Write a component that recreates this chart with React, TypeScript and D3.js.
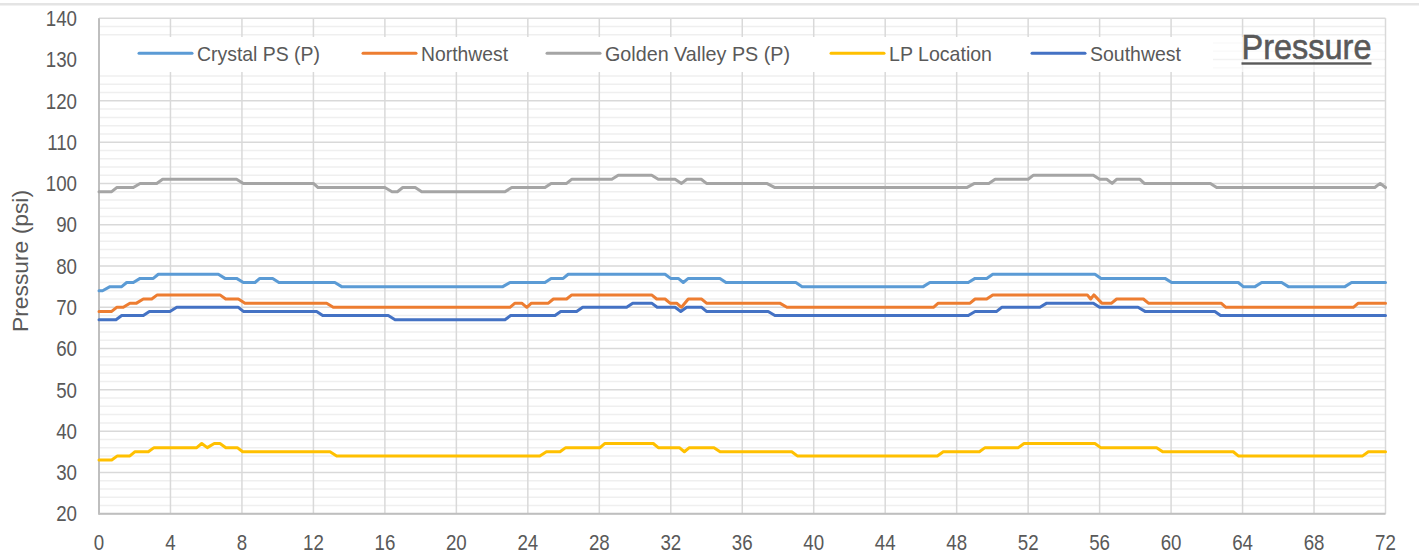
import React from "react";
import * as d3 from "d3";

type Pt = [number, number];

const seriesNames = ["Crystal PS (P)", "Northwest", "Golden Valley PS (P)", "LP Location", "Southwest"];
const seriesColors = ["#5B9BD5", "#ED7D31", "#A5A5A5", "#FFC000", "#4472C4"];

const xTicks = [0, 4, 8, 12, 16, 20, 24, 28, 32, 36, 40, 44, 48, 52, 56, 60, 64, 68, 72];
const yTicks = [20, 30, 40, 50, 60, 70, 80, 90, 100, 110, 120, 130, 140];

const crystalPS: Pt[] = [
  [0, 74], [0.2, 74], [0.615, 75], [1.27, 75], [1.55, 76], [1.92, 76], [2.3, 77], [3.04, 77], [3.32, 78], [6.68, 78],
  [7.05, 77], [7.7, 77], [8.08, 76], [8.73, 76], [9.0, 77], [9.72, 77], [10.07, 76], [13.2, 76], [13.58, 75], [22.6, 75],
  [23.0, 76], [24.96, 76], [25.3, 77], [25.98, 77], [26.26, 78], [31.68, 78], [31.99, 77], [32.42, 77], [32.7, 76], [32.98, 77],
  [34.75, 77], [35.09, 76], [39.0, 76], [39.35, 75], [46.13, 75], [46.5, 76], [48.65, 76], [49.03, 77], [49.68, 77], [50.02, 78],
  [55.74, 78], [56.08, 77], [59.66, 77], [60.03, 76], [63.76, 76], [64.04, 75], [64.7, 75], [65.07, 76], [66.19, 76], [66.56, 75],
  [69.73, 75], [70.1, 76], [72, 76],
];

const northwest: Pt[] = [
  [0, 69], [0.71, 69], [0.99, 70], [1.36, 70], [1.73, 71], [2.1, 71], [2.48, 72], [2.95, 72], [3.26, 73], [6.77, 73],
  [7.09, 72], [7.8, 72], [8.17, 71], [12.74, 71], [13.11, 70], [23.0, 70], [23.28, 71], [23.66, 71], [23.94, 70], [24.2, 71],
  [25.15, 71], [25.43, 72], [26.17, 72], [26.46, 73], [30.93, 73], [31.21, 72], [31.68, 72], [31.96, 71], [32.33, 71], [32.6, 70],
  [32.98, 72], [33.73, 72], [34.0, 71], [38.1, 71], [38.5, 70], [46.7, 70], [46.97, 71], [48.75, 71], [49.03, 72], [49.68, 72],
  [50.02, 73], [55.31, 73], [55.5, 72], [55.68, 73], [56.12, 71], [56.67, 71], [56.95, 72], [58.45, 72], [58.73, 71], [62.8, 71],
  [63.07, 70], [70.2, 70], [70.48, 71], [72, 71],
];

const goldenValleyPS: Pt[] = [
  [0, 98], [0.71, 98], [0.99, 99], [1.92, 99], [2.3, 100], [3.23, 100], [3.56, 101], [7.7, 101], [8.08, 100], [12.0, 100],
  [12.26, 99], [16.0, 99], [16.4, 98], [16.7, 98], [17.0, 99], [17.7, 99], [18.06, 98], [22.72, 98], [23.1, 99], [24.96, 99],
  [25.3, 100], [26.17, 100], [26.45, 101], [28.7, 101], [29.06, 102], [30.93, 102], [31.3, 101], [32.24, 101], [32.6, 100], [32.9, 101],
  [33.7, 101], [34.0, 100], [37.37, 100], [37.83, 99], [48.56, 99], [49.0, 100], [49.8, 100], [50.15, 101], [52.0, 101], [52.3, 102],
  [55.65, 102], [56.0, 101], [56.4, 101], [56.7, 100], [56.95, 101], [58.26, 101], [58.5, 100], [62.2, 100], [62.55, 99], [71.4, 99],
  [71.7, 100], [72, 99],
];

const lpLocation: Pt[] = [
  [0, 33], [0.71, 33], [1.03, 34], [1.73, 34], [2.0, 35], [2.76, 35], [3.08, 36], [5.47, 36], [5.75, 37], [6.06, 36],
  [6.45, 37], [6.77, 37], [7.1, 36], [7.74, 36], [8.04, 35], [12.93, 35], [13.3, 34], [24.67, 34], [25.04, 35], [25.8, 35],
  [26.12, 36], [28.04, 36], [28.3, 37], [31.02, 37], [31.3, 36], [32.48, 36], [32.76, 35], [33.04, 36], [34.42, 36], [34.76, 35],
  [38.77, 35], [39.08, 34], [46.92, 34], [47.25, 35], [49.27, 35], [49.59, 36], [51.45, 36], [51.77, 37], [55.74, 37], [56.06, 36],
  [59.19, 36], [59.53, 35], [63.48, 35], [63.76, 34], [70.72, 34], [71.04, 35], [72, 35],
];

const southwest: Pt[] = [
  [0, 67], [0.95, 67], [1.27, 68], [2.48, 68], [2.82, 69], [3.97, 69], [4.35, 70], [7.8, 70], [8.08, 69], [12.18, 69],
  [12.52, 68], [16.19, 68], [16.57, 67], [22.72, 67], [23.04, 68], [25.52, 68], [25.84, 69], [26.73, 69], [27.07, 70], [29.53, 70],
  [29.87, 71], [30.93, 71], [31.24, 70], [32.24, 70], [32.56, 69], [32.89, 70], [33.73, 70], [34.0, 69], [37.45, 69], [37.83, 68],
  [48.65, 68], [49.03, 69], [50.24, 69], [50.52, 70], [52.66, 70], [53.04, 71], [55.65, 71], [56.0, 70], [58.15, 70], [58.54, 69],
  [62.45, 69], [62.77, 68], [72, 68],
];

const seriesData: Pt[][] = [crystalPS, northwest, goldenValleyPS, lpLocation, southwest];

const W = 1419;
const H = 554;
const FONT = "'Liberation Sans Narrow', 'Arial Narrow', 'Liberation Sans', Arial, sans-serif";
const TXT = "#595959";

// legend layout
const legendX = [139, 363, 547, 831, 1032];
const legendTextW = [123, 87, 185, 103, 91];

export default function App() {
  const x = d3.scaleLinear().domain([0, 72]).range([99, 1385.5]);
  const y = d3.scaleLinear().domain([20, 140]).range([513.7, 18.3]);
  const line = d3
    .line<Pt>()
    .x((d) => x(d[0]))
    .y((d) => y(d[1]));

  const minorY = d3.range(20, 141, 2).filter((v) => v % 10 !== 0);
  const [x0, x1] = x.range();
  const [yb, yt] = y.range();
  const order = [2, 0, 1, 4, 3];

  return (
    <svg
      width={W}
      height={H}
      style={{ position: "absolute", left: 0, top: 0, background: "#fff" }}
      fontFamily={FONT}
    >
      <rect x={0} y={0} width={W} height={H} fill="#fff" />
      <rect x={0} y={3} width={W} height={2.5} fill="#e4e4e4" />

      {minorY.map((v) => (
        <line key={"m" + v} x1={x0} x2={x1} y1={y(v)} y2={y(v)} stroke="#efefef" strokeWidth={1.5} />
      ))}
      {yTicks.map((v) => (
        <line key={"h" + v} x1={x0} x2={x1} y1={y(v)} y2={y(v)} stroke="#d9d9d9" strokeWidth={1.5} />
      ))}
      {xTicks.map((v) => (
        <line key={"v" + v} x1={x(v)} x2={x(v)} y1={yt} y2={yb} stroke="#d9d9d9" strokeWidth={1.5} />
      ))}
      <line x1={x0} x2={x0} y1={yt} y2={yb + 1} stroke="#bfbfbf" strokeWidth={2} />
      <line x1={x0} x2={x1} y1={yb} y2={yb} stroke="#bfbfbf" strokeWidth={2} />

      <rect x={x0 + 1} y={37} width={1213 - x0 - 1} height={35} fill="#fff" />
      <rect x={1213} y={37} width={x1 - 1213 - 1} height={35} fill="#fff" opacity={0.65} />

      {order.map((i) => (
        <path
          key={seriesNames[i]}
          d={line(seriesData[i]) || ""}
          fill="none"
          stroke={seriesColors[i]}
          strokeWidth={3}
          strokeLinejoin="round"
          strokeLinecap="round"
        />
      ))}

      {yTicks.map((v) => (
        <text
          key={"yt" + v}
          transform={`translate(77,${y(v)}) scale(0.87,1)`}
          dy="0.36em"
          textAnchor="end"
          fontSize={21.5}
          fill={TXT}
        >
          {v}
        </text>
      ))}
      {xTicks.map((v) => (
        <text
          key={"xt" + v}
          transform={`translate(${x(v)},549.5) scale(0.87,1)`}
          textAnchor="middle"
          fontSize={21.5}
          fill={TXT}
        >
          {v}
        </text>
      ))}

      <text
        transform={`translate(28,261) rotate(-90)`}
        textAnchor="middle"
        fontSize={21.5}
        fill={TXT}
        textLength={142}
        lengthAdjust="spacingAndGlyphs"
      >
        Pressure (psi)
      </text>

      {seriesNames.map((name, i) => (
        <g key={"lg" + i}>
          <line
            x1={legendX[i]}
            x2={legendX[i] + 53}
            y1={53.3}
            y2={53.3}
            stroke={seriesColors[i]}
            strokeWidth={3}
            strokeLinecap="round"
          />
          <text
            x={legendX[i] + 58}
            y={61}
            fontSize={21}
            fill={TXT}
            textLength={legendTextW[i]}
            lengthAdjust="spacingAndGlyphs"
          >
            {name}
          </text>
        </g>
      ))}

      <text
        x={1241.5}
        y={58.5}
        fontSize={35}
        fill={TXT}
        stroke={TXT}
        strokeWidth={0.6}
        textLength={130}
        lengthAdjust="spacingAndGlyphs"
      >
        Pressure
      </text>
      <rect x={1241.5} y={62.3} width={130} height={2.4} fill={TXT} />
    </svg>
  );
}
